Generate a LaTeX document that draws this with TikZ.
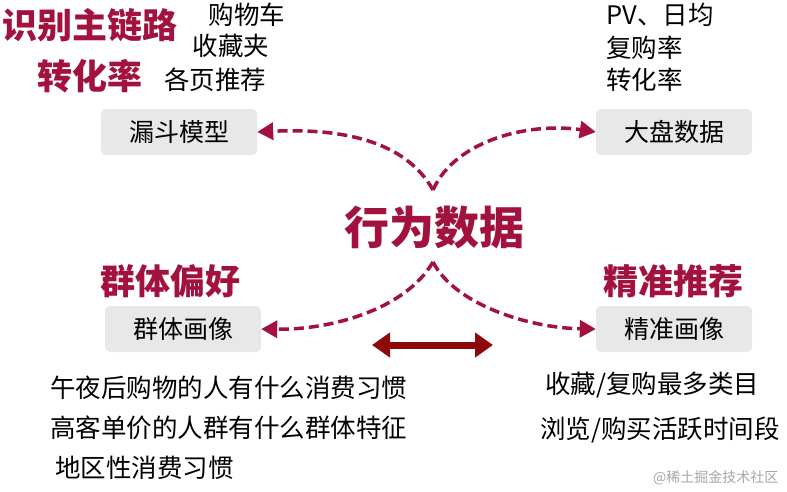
\documentclass[tikz,border=0pt]{standalone}
\usepackage{fontspec}
\setmainfont{Noto Sans CJK SC}
\usetikzlibrary{arrows.meta}
\definecolor{rd}{HTML}{A3123F}
\definecolor{drd}{HTML}{8E0A0A}
\begin{document}
\begin{tikzpicture}[x=1pt,y=-1pt,
  box/.style={fill=gray!18,rounded corners=5pt,minimum width=156pt,minimum height=46pt,font=\fontsize{25}{28}\selectfont},
  note/.style={font=\fontsize{25.5}{28}\selectfont,inner sep=0},
  hd/.style={font=\fontsize{35}{38}\selectfont\bfseries,text=rd,inner sep=0},
  conn/.style={rd,line width=3.5pt,dash pattern=on 10pt off 5pt,-{Triangle[length=16pt,width=17pt]}}]
\useasboundingbox (0,0) rectangle (787,491);
\node[box] (fun) at (179,132) {漏斗模型};
\node[box] (dp) at (674,132) {大盘数据};
\node[box] (qt) at (183,329) {群体画像};
\node[box] (jz) at (674,329) {精准画像};
\node[font=\fontsize{45}{48}\selectfont\bfseries,text=rd] (c) at (434,228) {行为数据};
\coordinate (ct) at (433,190);
\coordinate (cb) at (433,262);
\draw[conn] (ct) .. controls (405,140) and (340,128) .. (fun.east);
\draw[conn] (ct) .. controls (455,140) and (530,122) .. (dp.west);
\draw[conn] (cb) .. controls (405,310) and (330,330) .. (qt.east);
\draw[conn] (cb) .. controls (455,305) and (530,328) .. (jz.west);
\coordinate (la) at (372,345); \coordinate (lb) at (493,345);
\draw[drd,line width=7pt,{Triangle[length=18pt,width=24pt]}-{Triangle[length=18pt,width=24pt]}] (la) -- (lb);
\node[hd] (h1) at (90,25) {识别主链路};
\node[hd] (h2) at (90,76) {转化率};
\node[note] (n1) at (247,15) {购物车};
\node[note] (n2) at (231,46) {收藏夹};
\node[note] (n3) at (215,80) {各页推荐};
\node[note,anchor=west] (n4) at (606,15) {PV、日均};
\node[note,anchor=west] (n5) at (606,48) {复购率};
\node[note,anchor=west] (n6) at (606,80) {转化率};
\node[hd] (h3) at (170,281) {群体偏好};
\node[hd] (h4) at (673,281) {精准推荐};
\node[note,anchor=west] (l1) at (50,388) {午夜后购物的人有什么消费习惯};
\node[note,anchor=west] (l2) at (50,428) {高客单价的人群有什么群体特征};
\node[note,anchor=west] (l3) at (55,468) {地区性消费习惯};
\node[note,anchor=west] (r1) at (545,385) {收藏/复购最多类目};
\node[note,anchor=west] (r2) at (540,430) {浏览/购买活跃时间段};
\node[font=\fontsize{14}{16}\selectfont,text=gray!70,anchor=east] (wm) at (782,478) {@稀土掘金技术社区};
\end{tikzpicture}
\end{document}
